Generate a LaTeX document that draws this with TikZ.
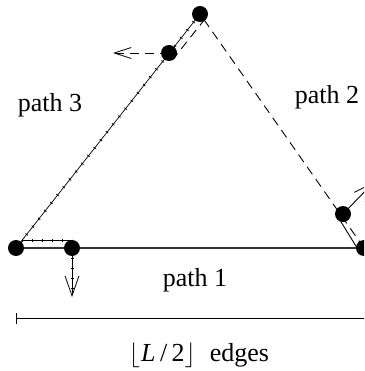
\documentclass[tikz,border=0pt]{standalone}
\usepackage{fontspec}
\setmainfont{Liberation Serif}
\usetikzlibrary{arrows.meta,calc}
\newcommand{\flrstrut}{\vrule height 19pt depth 5pt width 0pt}
\begin{document}
\begin{tikzpicture}[x=1pt,y=-1pt,
  dot/.style={circle,fill=black,inner sep=0pt,minimum size=16pt},
  lbl/.style={font=\fontsize{26}{30}\selectfont,inner sep=0pt},
  pathone/.style={line width=1.3pt,black!80},
  pathtwo/.style={line width=0.9pt,dash pattern=on 9pt off 6pt},
  paththree/.style={line width=0.7pt,postaction={draw,-,line width=3pt,dash pattern=on 0.8pt off 9.2pt}},
  solidwalk/.style={line width=0.9pt},
  headvee/.style={-{Straight Barb[length=20pt,width=14pt,line width=0.8pt]}},
  headlt/.style={-{Straight Barb[length=17pt,width=11pt,line width=0.8pt]}}]
\useasboundingbox (0,0) rectangle (364,371);
\clip (0,0) rectangle (364,371);
% vertices and intermediate nodes
\coordinate (A) at (16,248);
\coordinate (C) at (364,248);
\coordinate (E) at (200,14);
\coordinate (B) at (72,248);
\coordinate (D) at (343,214);
\coordinate (F) at (169,53);
% arrow ends
\coordinate (Bt) at (72,297);
\coordinate (Ft) at (113,53);
\coordinate (Dt) at (374,182);
% main triangle
\draw[pathone] (A) -- (C);
\draw[pathtwo] (C) -- (E);
\draw[paththree] (E) -- (A);
% walk along path 1 (ticked), then turn down
\draw[paththree] ($(A)+(6,-8)$) -- ($(B)+(0,-8)$);
\draw[paththree] (B) -- ($(Bt)+(0,-6)$);
\draw[headvee,line width=0.7pt] (B) -- (Bt);
% walk along path 3 (dashed), then turn left
\draw[pathtwo] ($(E)+(5.5,4.3)$) -- ($(F)+(5.5,4.3)$);
\draw[pathtwo,headlt] (F) -- (Ft);
% walk along path 2 (solid), then turn out
\draw[solidwalk] ($(C)+(-5,3)$) -- ($(D)+(-5,3)$);
\draw[solidwalk,headvee] (D) -- (Dt);
% dots
\node[dot] (dA) at (A) {};
\node[dot] (dB) at (B) {};
\node[dot] (dC) at (C) {};
\node[dot] (dD) at (D) {};
\node[dot] (dE) at (E) {};
\node[dot] (dF) at (F) {};
% labels
\node[lbl] (p3) at (50,105) {path 3};
\node[lbl] (p2) at (327,97) {path 2};
\node[lbl] (p1) at (195,280) {path 1};
% dimension line
\coordinate (dimL) at (16,318);
\coordinate (dimR) at (367,318);
\draw[line width=0.8pt,{Bar[width=11pt]}-{Bar[width=11pt]}] (dimL) -- (dimR);
\node[lbl] (len) at (199,355) {$\left\lfloor\flrstrut\right.$\textit{L}\,/\,2$\left\rfloor\flrstrut\right.$~~edges};
\end{tikzpicture}
\end{document}
